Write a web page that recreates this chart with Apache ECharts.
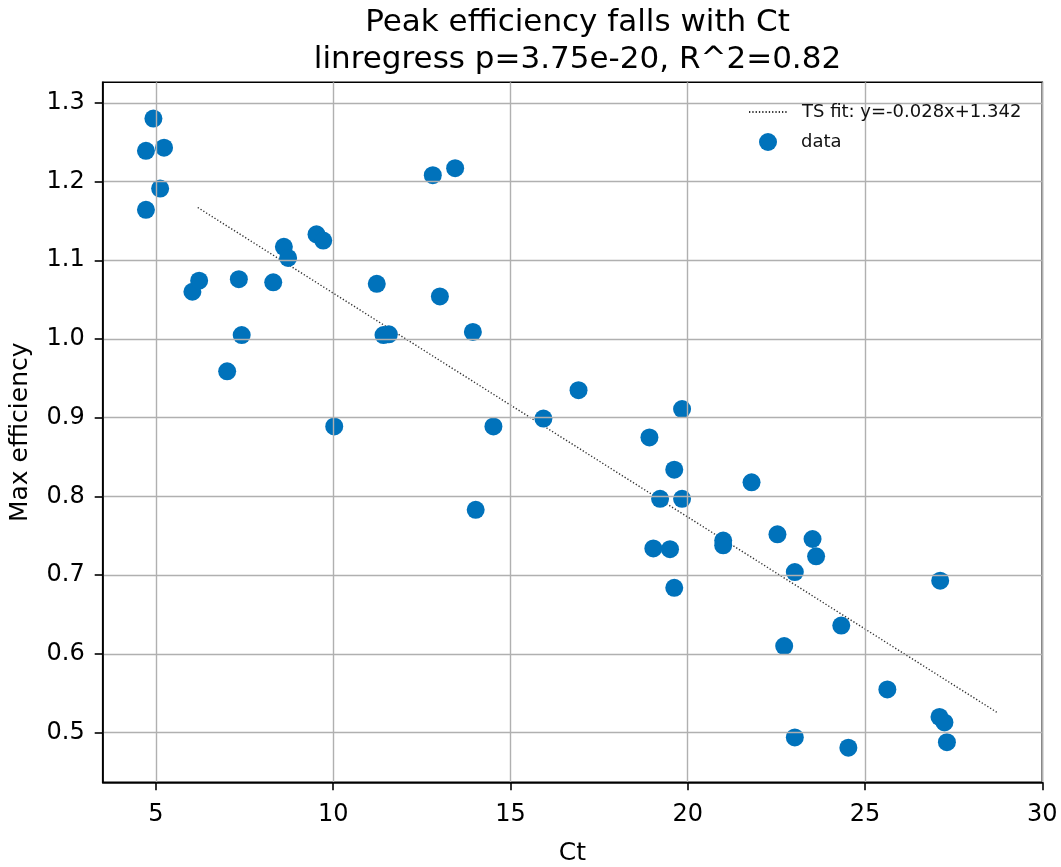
<!DOCTYPE html>
<html>
<head>
<meta charset="utf-8">
<script src="https://cdn.jsdelivr.net/npm/echarts@6/dist/echarts.min.js"></script>
<style>
html,body{margin:0;padding:0;background:#fff;}
#chart{width:1061px;height:867px;}
</style>
</head>
<body>
<div id="chart"></div>
<script>
// Scatter data: Ct vs Max efficiency
const ctValues = [4.93,4.72,5.23,5.12,4.72,6.03,6.22,7.34,7.42,7.01,8.31,8.61,8.73,9.53,9.72,10.03,11.23,11.42,11.57,12.81,13.44,13.01,13.94,14.52,15.93,16.92,14.02,18.92,19.84,19.62,19.22,19.84,19.03,19.50,19.62,21.00,21.00,21.80,22.53,23.52,23.62,23.02,27.12,24.33,22.72,25.63,27.10,27.24,27.31,23.02,24.53];
const effValues = [1.280,1.239,1.243,1.191,1.164,1.060,1.074,1.076,1.005,0.959,1.072,1.117,1.103,1.133,1.125,0.889,1.070,1.005,1.006,1.208,1.217,1.054,1.009,0.889,0.899,0.935,0.783,0.875,0.911,0.834,0.797,0.797,0.734,0.733,0.684,0.744,0.738,0.818,0.752,0.746,0.724,0.704,0.693,0.636,0.610,0.555,0.520,0.513,0.488,0.494,0.481];
// Theil-Sen fit line endpoints
const fitX = [6.18, 28.75];
const fitY = [1.167, 0.525];
// Tick values
const xTicks = [5,10,15,20,25,30];
const yTicks = [0.5,0.6,0.7,0.8,0.9,1.0,1.1,1.2,1.3];
const titleText = 'Peak efficiency falls with Ct\nlinregress p=3.75e-20, R^2=0.82';
const fitName = 'TS fit: y=-0.028x+1.342';
const dataName = 'data';

const scatterData = ctValues.map((x,i)=>[x, effValues[i]]);
const fitData = fitX.map((x,i)=>[x, fitY[i]]);

const FONT = 'DejaVu Sans';
const chart = echarts.init(document.getElementById('chart'), null, {renderer:'canvas'});
chart.setOption({
  backgroundColor:'#fff',
  animation:false,
  textStyle:{fontFamily:FONT, color:'#000'},
  title:{
    text:titleText,
    left:572.5, top:-1, textAlign:'center',
    textStyle:{fontFamily:FONT, fontSize:31, fontWeight:'normal', color:'#000', lineHeight:37}
  },
  legend:[{
    data:[fitName], orient:'vertical', left:743, top:97,
    itemWidth:38, itemHeight:20,
    itemStyle:{color:'rgba(0,0,0,0)', borderWidth:0, opacity:0},
    textStyle:{fontFamily:FONT, fontSize:18, color:'#111', padding:[0,0,0,10], lineHeight:20}
  },{
    data:[{name:dataName, icon:'circle'}], orient:'vertical', left:754, top:127,
    itemWidth:18, itemHeight:18,
    textStyle:{fontFamily:FONT, fontSize:18, color:'#111', padding:[0,0,0,19], lineHeight:20}
  }],
  grid:{left:102.7, right:18.7, top:82.3, bottom:84.7, show:true, borderColor:'#000', borderWidth:1.6, containLabel:false, outerBoundsMode:'none'},
  xAxis:{
    type:'value', min:3.5, max:30, z:3,
    name:'Ct', nameLocation:'middle', nameGap:59,
    nameTextStyle:{fontFamily:FONT, fontSize:25, color:'#000'},
    axisLine:{show:true, onZero:false, lineStyle:{color:'#000', width:1.6}},
    axisTick:{show:true, inside:false, length:8, lineStyle:{color:'#000', width:1.6}, customValues:xTicks},
    axisLabel:{fontFamily:FONT, fontSize:24, color:'#000', margin:20, customValues:xTicks, formatter:v=>String(v)},
    splitLine:{show:true, lineStyle:{color:'#b0b0b0', width:1.4}}
  },
  yAxis:{
    type:'value', min:0.437, max:1.326, z:3,
    name:'Max efficiency', nameLocation:'middle', nameGap:70, nameRotate:90,
    nameTextStyle:{fontFamily:FONT, fontSize:25, color:'#000'},
    axisLine:{show:true, onZero:false, lineStyle:{color:'#000', width:1.6}},
    axisTick:{show:true, inside:false, length:8, lineStyle:{color:'#000', width:1.6}, customValues:yTicks},
    axisLabel:{fontFamily:FONT, fontSize:24, color:'#000', margin:18, customValues:yTicks, formatter:v=>v.toFixed(1)},
    splitLine:{show:true, lineStyle:{color:'#b0b0b0', width:1.4}}
  },
  series:[{
    name:fitName, type:'line', data:fitData, showSymbol:false, symbol:'none',
    lineStyle:{color:'#333', width:1.4, type:[1.3,2]}, z:1
  },{
    name:dataName, type:'scatter', data:scatterData, symbol:'circle', symbolSize:18,
    itemStyle:{color:'#0072bb', opacity:1}, z:2
  }]
});
</script>
</body>
</html>
